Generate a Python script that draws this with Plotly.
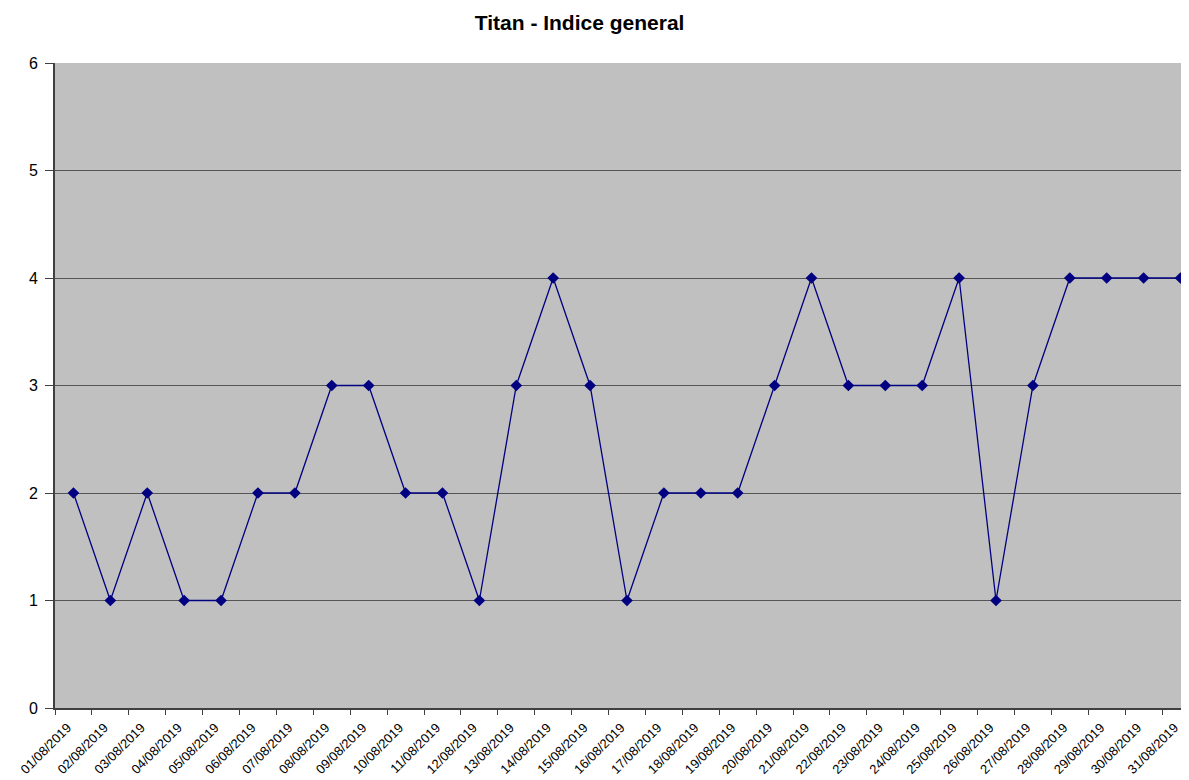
import plotly.graph_objects as go

dates = [f"{d:02d}/08/2019" for d in range(1, 32)]
values = [2, 1, 2, 1, 1, 2, 2, 3, 3, 2, 2, 1, 3, 4, 3, 1, 2, 2, 2, 3, 4, 3, 3, 3, 4, 1, 3, 4, 4, 4, 4]
y_ticks = [0, 1, 2, 3, 4, 5, 6]

fig = go.Figure()
fig.add_trace(go.Scatter(
    x=dates, y=values, mode="lines+markers",
    line=dict(color="#000080", width=1.3),
    marker=dict(symbol="diamond", size=9, color="#000080"),
    showlegend=False,
))

# page body has an 8px margin, so the figure is shrunk to fit the window
fig.update_layout(
    width=1181, height=772,
    margin=dict(l=47, r=0, t=55, b=72, autoexpand=False),
    paper_bgcolor="white", plot_bgcolor="#C0C0C0",
    font=dict(family="Liberation Sans, Arial, sans-serif", color="black"),
    title=dict(text="<b>Titan - Indice general</b>", x=0.484, xanchor="center",
               y=0.99, yanchor="top", font=dict(size=21)),
)
fig.update_xaxes(
    type="category", range=[-0.5, 30.23], automargin=False,
    tickson="boundaries", ticks="outside", ticklen=5, tickcolor="#404040",
    tickangle=-45, tickfont=dict(size=13), ticklabelshift=-6, ticklabelstandoff=5,
    showgrid=False, showline=True, linecolor="#404040", linewidth=2,
    zeroline=False,
)
fig.update_yaxes(
    range=[0, 6], tickvals=y_ticks, ticks="outside", ticklen=8, tickcolor="#404040",
    tickfont=dict(size=16), ticklabelstandoff=4, automargin=False,
    showgrid=True, gridcolor="#555555", gridwidth=1,
    showline=True, linecolor="#404040", linewidth=2, zeroline=False,
)

fig.write_html("out.html")
